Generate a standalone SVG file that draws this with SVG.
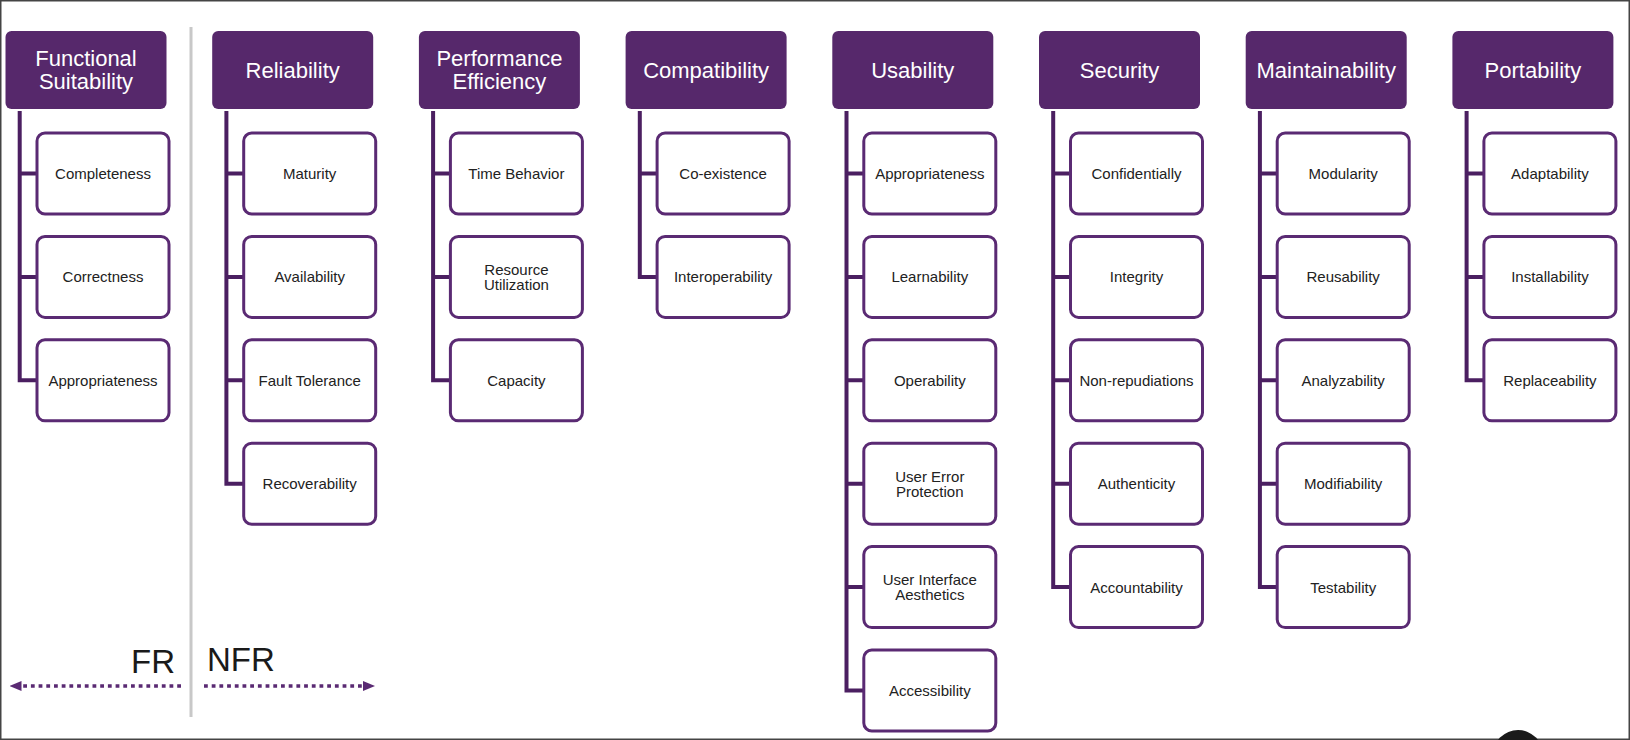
<svg xmlns="http://www.w3.org/2000/svg" width="1630" height="740" viewBox="0 0 1630 740">
<defs>
<style>
.hdr{fill:#56286b;}
.ht{font-family:"Liberation Sans",Arial,sans-serif;font-size:22px;fill:#ffffff;text-anchor:middle;}
.box{fill:#ffffff;stroke:#5a2a73;stroke-width:3;}
.ct{font-family:"Liberation Sans",Arial,sans-serif;font-size:15px;fill:#222222;text-anchor:middle;}
.con{fill:none;stroke:#4b1f61;stroke-width:4;}
.lbl{font-family:"Liberation Sans",Arial,sans-serif;font-size:33px;fill:#1a1a1a;}
.dot{fill:none;stroke:#5a2a73;stroke-width:3.5;stroke-dasharray:3.8 3.9;}
</style>
<marker id="ah" viewBox="0 0 12 10" refX="0" refY="5" markerWidth="12" markerHeight="10" markerUnits="userSpaceOnUse" orient="auto">
<path d="M0,0 L12,5 L0,10 Z" fill="#5a2a73"/>
</marker>
</defs>
<rect x="0" y="0" width="1630" height="740" fill="#ffffff"/>
<rect x="0.75" y="0.75" width="1628.5" height="738.5" fill="none" stroke="#444444" stroke-width="1.5"/>

<g id="connectors">
<path class="con" d="M19.7 111 V380.3 H37 M19.7 173.5 H37 M19.7 276.9 H37"/>
<path class="con" d="M226.4 111 V483.7 H243.7 M226.4 173.5 H243.7 M226.4 276.9 H243.7 M226.4 380.3 H243.7"/>
<path class="con" d="M433.1 111 V380.3 H450.4 M433.1 173.5 H450.4 M433.1 276.9 H450.4"/>
<path class="con" d="M639.8 111 V276.9 H657.1 M639.8 173.5 H657.1"/>
<path class="con" d="M846.5 111 V690.5 H863.8 M846.5 173.5 H863.8 M846.5 276.9 H863.8 M846.5 380.3 H863.8 M846.5 483.7 H863.8 M846.5 587.1 H863.8"/>
<path class="con" d="M1053.2 111 V587.1 H1070.5 M1053.2 173.5 H1070.5 M1053.2 276.9 H1070.5 M1053.2 380.3 H1070.5 M1053.2 483.7 H1070.5"/>
<path class="con" d="M1259.9 111 V587.1 H1277.2 M1259.9 173.5 H1277.2 M1259.9 276.9 H1277.2 M1259.9 380.3 H1277.2 M1259.9 483.7 H1277.2"/>
<path class="con" d="M1466.6 111 V380.3 H1483.9 M1466.6 173.5 H1483.9 M1466.6 276.9 H1483.9"/>
</g>

<g id="separator">
<rect x="189.5" y="27" width="3" height="690" fill="#c8c8c8"/>
<text class="lbl" x="175" y="672.5" text-anchor="end">FR</text>
<text class="lbl" x="207" y="671">NFR</text>
<line class="dot" x1="181" y1="686" x2="21.5" y2="686" marker-end="url(#ah)"/>
<line class="dot" x1="204" y1="686" x2="363" y2="686" marker-end="url(#ah)"/>
</g>

<g id="functional-suitability">
<rect class="hdr" x="5.5" y="31" width="161" height="78" rx="6"/>
<text class="ht" x="86" y="65.5">Functional</text>
<text class="ht" x="86" y="89">Suitability</text>
<rect class="box" x="37" y="133" width="132" height="81" rx="8"/><text class="ct" x="103" y="179">Completeness</text>
<rect class="box" x="37" y="236.4" width="132" height="81" rx="8"/><text class="ct" x="103" y="282.4">Correctness</text>
<rect class="box" x="37" y="339.8" width="132" height="81" rx="8"/><text class="ct" x="103" y="385.8">Appropriateness</text>
</g>

<g id="reliability">
<rect class="hdr" x="212.2" y="31" width="161" height="78" rx="6"/>
<text class="ht" x="292.7" y="77.5">Reliability</text>
<rect class="box" x="243.7" y="133" width="132" height="81" rx="8"/><text class="ct" x="309.7" y="179">Maturity</text>
<rect class="box" x="243.7" y="236.4" width="132" height="81" rx="8"/><text class="ct" x="309.7" y="282.4">Availability</text>
<rect class="box" x="243.7" y="339.8" width="132" height="81" rx="8"/><text class="ct" x="309.7" y="385.8">Fault Tolerance</text>
<rect class="box" x="243.7" y="443.2" width="132" height="81" rx="8"/><text class="ct" x="309.7" y="489.2">Recoverability</text>
</g>

<g id="performance-efficiency">
<rect class="hdr" x="418.9" y="31" width="161" height="78" rx="6"/>
<text class="ht" x="499.4" y="65.5">Performance</text>
<text class="ht" x="499.4" y="89">Efficiency</text>
<rect class="box" x="450.4" y="133" width="132" height="81" rx="8"/><text class="ct" x="516.4" y="179">Time Behavior</text>
<rect class="box" x="450.4" y="236.4" width="132" height="81" rx="8"/><text class="ct" x="516.4" y="274.9">Resource</text><text class="ct" x="516.4" y="289.9">Utilization</text>
<rect class="box" x="450.4" y="339.8" width="132" height="81" rx="8"/><text class="ct" x="516.4" y="385.8">Capacity</text>
</g>

<g id="compatibility">
<rect class="hdr" x="625.6" y="31" width="161" height="78" rx="6"/>
<text class="ht" x="706.1" y="77.5">Compatibility</text>
<rect class="box" x="657.1" y="133" width="132" height="81" rx="8"/><text class="ct" x="723.1" y="179">Co-existence</text>
<rect class="box" x="657.1" y="236.4" width="132" height="81" rx="8"/><text class="ct" x="723.1" y="282.4">Interoperability</text>
</g>

<g id="usability">
<rect class="hdr" x="832.3" y="31" width="161" height="78" rx="6"/>
<text class="ht" x="912.8" y="77.5">Usability</text>
<rect class="box" x="863.8" y="133" width="132" height="81" rx="8"/><text class="ct" x="929.8" y="179">Appropriateness</text>
<rect class="box" x="863.8" y="236.4" width="132" height="81" rx="8"/><text class="ct" x="929.8" y="282.4">Learnability</text>
<rect class="box" x="863.8" y="339.8" width="132" height="81" rx="8"/><text class="ct" x="929.8" y="385.8">Operability</text>
<rect class="box" x="863.8" y="443.2" width="132" height="81" rx="8"/><text class="ct" x="929.8" y="481.7">User Error</text><text class="ct" x="929.8" y="496.7">Protection</text>
<rect class="box" x="863.8" y="546.6" width="132" height="81" rx="8"/><text class="ct" x="929.8" y="585.1">User Interface</text><text class="ct" x="929.8" y="600.1">Aesthetics</text>
<rect class="box" x="863.8" y="650" width="132" height="81" rx="8"/><text class="ct" x="929.8" y="696">Accessibility</text>
</g>

<g id="security">
<rect class="hdr" x="1039" y="31" width="161" height="78" rx="6"/>
<text class="ht" x="1119.5" y="77.5">Security</text>
<rect class="box" x="1070.5" y="133" width="132" height="81" rx="8"/><text class="ct" x="1136.5" y="179">Confidentially</text>
<rect class="box" x="1070.5" y="236.4" width="132" height="81" rx="8"/><text class="ct" x="1136.5" y="282.4">Integrity</text>
<rect class="box" x="1070.5" y="339.8" width="132" height="81" rx="8"/><text class="ct" x="1136.5" y="385.8">Non-repudiations</text>
<rect class="box" x="1070.5" y="443.2" width="132" height="81" rx="8"/><text class="ct" x="1136.5" y="489.2">Authenticity</text>
<rect class="box" x="1070.5" y="546.6" width="132" height="81" rx="8"/><text class="ct" x="1136.5" y="592.6">Accountability</text>
</g>

<g id="maintainability">
<rect class="hdr" x="1245.7" y="31" width="161" height="78" rx="6"/>
<text class="ht" x="1326.2" y="77.5">Maintainability</text>
<rect class="box" x="1277.2" y="133" width="132" height="81" rx="8"/><text class="ct" x="1343.2" y="179">Modularity</text>
<rect class="box" x="1277.2" y="236.4" width="132" height="81" rx="8"/><text class="ct" x="1343.2" y="282.4">Reusability</text>
<rect class="box" x="1277.2" y="339.8" width="132" height="81" rx="8"/><text class="ct" x="1343.2" y="385.8">Analyzability</text>
<rect class="box" x="1277.2" y="443.2" width="132" height="81" rx="8"/><text class="ct" x="1343.2" y="489.2">Modifiability</text>
<rect class="box" x="1277.2" y="546.6" width="132" height="81" rx="8"/><text class="ct" x="1343.2" y="592.6">Testability</text>
</g>

<g id="portability">
<rect class="hdr" x="1452.4" y="31" width="161" height="78" rx="6"/>
<text class="ht" x="1532.9" y="77.5">Portability</text>
<rect class="box" x="1483.9" y="133" width="132" height="81" rx="8"/><text class="ct" x="1549.9" y="179">Adaptability</text>
<rect class="box" x="1483.9" y="236.4" width="132" height="81" rx="8"/><text class="ct" x="1549.9" y="282.4">Installability</text>
<rect class="box" x="1483.9" y="339.8" width="132" height="81" rx="8"/><text class="ct" x="1549.9" y="385.8">Replaceability</text>
</g>

<circle cx="1518" cy="755" r="25" fill="#1a1a1a"/>
</svg>
